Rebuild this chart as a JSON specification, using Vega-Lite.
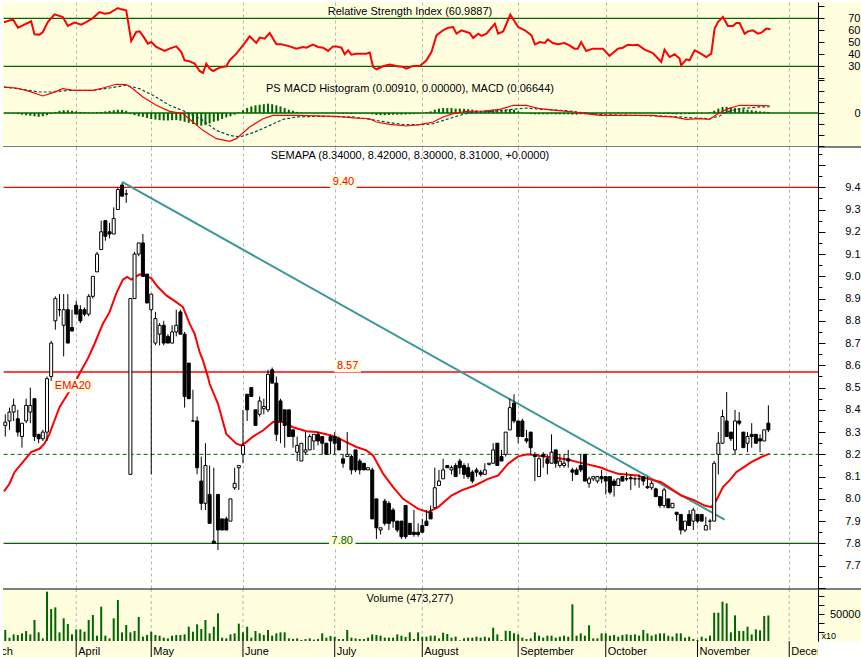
{
"$schema": "https://vega.github.io/schema/vega-lite/v6.json",
"background": "white",
"padding": 0,
"autosize": {"type": "pad"},
"bounds": "flush",
"spacing": 0,
"config": {
 "view": {"stroke": null},
 "font": "Liberation Sans",
 "axis": {"labelFont": "Liberation Sans", "labelFontSize": 11, "labelColor": "black", "domainColor": "black", "tickColor": "black", "titleFont": "Liberation Sans", "labelFlush": false},
 "text": {"font": "Liberation Sans"}
},
"resolve": {"scale": {"x": "independent", "y": "independent"}},
"datasets": {
 "months": [
  {"i": -6, "m": "March"}, {"i": 17, "m": "April"}, {"i": 35, "m": "May"}, {"i": 57, "m": "June"}, {"i": 79, "m": "July"},
  {"i": 100, "m": "August"}, {"i": 123, "m": "September"}, {"i": 144, "m": "October"}, {"i": 166, "m": "November"}, {"i": 188, "m": "December"}
 ],
 "bars": [
  {"i":0,"o":8.33,"h":8.38,"l":8.28,"c":8.345,"v":20400,"hg":-0.003},
  {"i":1,"o":8.35,"h":8.41,"l":8.31,"c":8.39,"v":6200,"hg":-0.003},
  {"i":2,"o":8.39,"h":8.45,"l":8.35,"c":8.42,"v":12300,"hg":-0.005},
  {"i":3,"o":8.36,"h":8.40,"l":8.28,"c":8.30,"v":11100,"hg":-0.01},
  {"i":4,"o":8.28,"h":8.34,"l":8.23,"c":8.34,"v":14200,"hg":-0.015},
  {"i":5,"o":8.35,"h":8.45,"l":8.34,"c":8.42,"v":18500,"hg":-0.02},
  {"i":6,"o":8.39,"h":8.50,"l":8.34,"c":8.42,"v":12300,"hg":-0.025},
  {"i":7,"o":8.45,"h":8.45,"l":8.26,"c":8.28,"v":38900,"hg":-0.03},
  {"i":8,"o":8.29,"h":8.29,"l":8.25,"c":8.27,"v":16000,"hg":-0.035},
  {"i":9,"o":8.27,"h":8.31,"l":8.26,"c":8.30,"v":4900,"hg":-0.03},
  {"i":10,"o":8.30,"h":8.55,"l":8.26,"c":8.54,"v":91300,"hg":-0.02},
  {"i":11,"o":8.55,"h":8.71,"l":8.53,"c":8.70,"v":59200,"hg":-0.01},
  {"i":12,"o":8.80,"h":8.91,"l":8.76,"c":8.90,"v":62300,"hg":0.01},
  {"i":13,"o":8.85,"h":8.92,"l":8.82,"c":8.85,"v":16000,"hg":0.02},
  {"i":14,"o":8.78,"h":8.92,"l":8.64,"c":8.85,"v":42000,"hg":0.025},
  {"i":15,"o":8.85,"h":8.92,"l":8.70,"c":8.70,"v":31500,"hg":0.025},
  {"i":16,"o":8.77,"h":8.85,"l":8.75,"c":8.755,"v":12300,"hg":0.02},
  {"i":17,"o":8.87,"h":8.89,"l":8.83,"c":8.83,"v":21600,"hg":0.015},
  {"i":18,"o":8.85,"h":8.87,"l":8.79,"c":8.80,"v":21600,"hg":0.01},
  {"i":19,"o":8.85,"h":8.86,"l":8.82,"c":8.83,"v":17300,"hg":0.008},
  {"i":20,"o":8.83,"h":8.92,"l":8.82,"c":8.91,"v":38900,"hg":0.005},
  {"i":21,"o":8.91,"h":9.00,"l":8.90,"c":9.00,"v":48100,"hg":0.005},
  {"i":22,"o":9.02,"h":9.11,"l":9.02,"c":9.10,"v":9900,"hg":0.008},
  {"i":23,"o":9.12,"h":9.25,"l":9.12,"c":9.20,"v":63500,"hg":0.01},
  {"i":24,"o":9.25,"h":9.25,"l":9.16,"c":9.18,"v":9900,"hg":0.015},
  {"i":25,"o":9.20,"h":9.24,"l":9.17,"c":9.19,"v":4900,"hg":0.02},
  {"i":26,"o":9.19,"h":9.31,"l":9.19,"c":9.26,"v":42000,"hg":0.025},
  {"i":27,"o":9.30,"h":9.40,"l":9.30,"c":9.39,"v":75900,"hg":0.03},
  {"i":28,"o":9.41,"h":9.42,"l":9.36,"c":9.36,"v":16000,"hg":0.028},
  {"i":29,"o":9.37,"h":9.39,"l":9.33,"c":9.37,"v":29600,"hg":0.02},
  {"i":30,"o":8.11,"h":8.90,"l":8.11,"c":8.90,"v":16000,"hg":-0.01},
  {"i":31,"o":8.90,"h":9.11,"l":8.90,"c":9.10,"v":18500,"hg":-0.02},
  {"i":32,"o":9.10,"h":9.15,"l":9.09,"c":9.15,"v":44400,"hg":-0.03},
  {"i":33,"o":9.15,"h":9.19,"l":9.00,"c":9.00,"v":8000,"hg":-0.035},
  {"i":34,"o":9.01,"h":9.01,"l":8.88,"c":8.88,"v":11100,"hg":-0.045},
  {"i":35,"o":8.85,"h":8.92,"l":8.11,"c":8.92,"v":17300,"hg":-0.055},
  {"i":36,"o":8.70,"h":8.84,"l":8.69,"c":8.81,"v":11100,"hg":-0.06},
  {"i":37,"o":8.74,"h":8.79,"l":8.69,"c":8.78,"v":9900,"hg":-0.065},
  {"i":38,"o":8.78,"h":8.80,"l":8.69,"c":8.70,"v":6200,"hg":-0.068},
  {"i":39,"o":8.73,"h":8.74,"l":8.70,"c":8.70,"v":4900,"hg":-0.068},
  {"i":40,"o":8.70,"h":8.78,"l":8.70,"c":8.75,"v":9900,"hg":-0.065},
  {"i":41,"o":8.75,"h":8.85,"l":8.73,"c":8.78,"v":11100,"hg":-0.065},
  {"i":42,"o":8.84,"h":8.85,"l":8.74,"c":8.74,"v":11100,"hg":-0.07},
  {"i":43,"o":8.74,"h":8.75,"l":8.41,"c":8.46,"v":12300,"hg":-0.08},
  {"i":44,"o":8.61,"h":8.61,"l":8.45,"c":8.45,"v":26500,"hg":-0.09},
  {"i":45,"o":8.35,"h":8.49,"l":8.35,"c":8.35,"v":17300,"hg":-0.1},
  {"i":46,"o":8.35,"h":8.37,"l":8.11,"c":8.14,"v":30900,"hg":-0.11},
  {"i":47,"o":8.08,"h":8.19,"l":7.95,"c":7.98,"v":22200,"hg":-0.115},
  {"i":48,"o":7.98,"h":8.25,"l":7.95,"c":8.15,"v":38900,"hg":-0.11},
  {"i":49,"o":8.02,"h":8.15,"l":7.89,"c":7.89,"v":14200,"hg":-0.095},
  {"i":50,"o":7.81,"h":8.14,"l":7.80,"c":7.80,"v":26500,"hg":-0.08},
  {"i":51,"o":8.02,"h":8.02,"l":7.77,"c":7.86,"v":51200,"hg":-0.07},
  {"i":52,"o":7.91,"h":7.91,"l":7.86,"c":7.86,"v":6200,"hg":-0.055},
  {"i":53,"o":7.91,"h":7.92,"l":7.86,"c":7.86,"v":4900,"hg":-0.04},
  {"i":54,"o":7.90,"h":8.00,"l":7.90,"c":8.00,"v":12300,"hg":-0.03},
  {"i":55,"o":8.05,"h":8.14,"l":8.04,"c":8.07,"v":14200,"hg":-0.015},
  {"i":56,"o":8.14,"h":8.15,"l":8.04,"c":8.15,"v":32100,"hg":0.005},
  {"i":57,"o":8.20,"h":8.40,"l":8.16,"c":8.24,"v":16000,"hg":0.025},
  {"i":58,"o":8.47,"h":8.47,"l":8.35,"c":8.40,"v":26500,"hg":0.045},
  {"i":59,"o":8.50,"h":8.50,"l":8.46,"c":8.46,"v":6200,"hg":0.06},
  {"i":60,"o":8.40,"h":8.40,"l":8.33,"c":8.33,"v":18500,"hg":0.07},
  {"i":61,"o":8.38,"h":8.46,"l":8.37,"c":8.44,"v":14200,"hg":0.075},
  {"i":62,"o":8.405,"h":8.45,"l":8.38,"c":8.415,"v":11100,"hg":0.08},
  {"i":63,"o":8.40,"h":8.58,"l":8.39,"c":8.56,"v":20400,"hg":0.085},
  {"i":64,"o":8.58,"h":8.59,"l":8.52,"c":8.52,"v":9900,"hg":0.08},
  {"i":65,"o":8.52,"h":8.55,"l":8.26,"c":8.29,"v":14200,"hg":0.07},
  {"i":66,"o":8.44,"h":8.45,"l":8.25,"c":8.35,"v":16000,"hg":0.06},
  {"i":67,"o":8.40,"h":8.40,"l":8.23,"c":8.33,"v":16000,"hg":0.045},
  {"i":68,"o":8.40,"h":8.40,"l":8.28,"c":8.28,"v":4900,"hg":0.03},
  {"i":69,"o":8.31,"h":8.31,"l":8.23,"c":8.28,"v":3700,"hg":0.02},
  {"i":70,"o":8.21,"h":8.28,"l":8.17,"c":8.24,"v":4900,"hg":0.01},
  {"i":71,"o":8.17,"h":8.25,"l":8.17,"c":8.25,"v":1900,"hg":0.005},
  {"i":72,"o":8.21,"h":8.30,"l":8.20,"c":8.22,"v":3700,"hg":0.003},
  {"i":73,"o":8.22,"h":8.29,"l":8.22,"c":8.28,"v":4900,"hg":0.002},
  {"i":74,"o":8.26,"h":8.29,"l":8.22,"c":8.29,"v":2500,"hg":-0.002},
  {"i":75,"o":8.29,"h":8.30,"l":8.24,"c":8.26,"v":3700,"hg":-0.003},
  {"i":76,"o":8.28,"h":8.28,"l":8.20,"c":8.25,"v":14200,"hg":0.003},
  {"i":77,"o":8.25,"h":8.25,"l":8.20,"c":8.20,"v":6200,"hg":-0.004},
  {"i":78,"o":8.28,"h":8.29,"l":8.20,"c":8.26,"v":9300,"hg":0.002},
  {"i":79,"o":8.28,"h":8.30,"l":8.20,"c":8.25,"v":8000,"hg":-0.003},
  {"i":80,"o":8.27,"h":8.28,"l":8.22,"c":8.22,"v":3700,"hg":-0.005},
  {"i":81,"o":8.18,"h":8.20,"l":8.14,"c":8.16,"v":3700,"hg":-0.008},
  {"i":82,"o":8.19,"h":8.30,"l":8.19,"c":8.20,"v":20400,"hg":-0.006},
  {"i":83,"o":8.19,"h":8.20,"l":8.11,"c":8.13,"v":6200,"hg":-0.01},
  {"i":84,"o":8.22,"h":8.22,"l":8.12,"c":8.13,"v":4900,"hg":-0.008},
  {"i":85,"o":8.17,"h":8.18,"l":8.11,"c":8.13,"v":3700,"hg":-0.006},
  {"i":86,"o":8.16,"h":8.16,"l":8.13,"c":8.13,"v":3700,"hg":-0.005},
  {"i":87,"o":8.13,"h":8.14,"l":8.13,"c":8.14,"v":6200,"hg":-0.004},
  {"i":88,"o":8.13,"h":8.14,"l":7.91,"c":7.91,"v":12300,"hg":-0.012},
  {"i":89,"o":8.00,"h":8.00,"l":7.82,"c":7.87,"v":11100,"hg":-0.018},
  {"i":90,"o":7.86,"h":7.87,"l":7.84,"c":7.87,"v":9900,"hg":-0.02},
  {"i":91,"o":7.99,"h":8.00,"l":7.88,"c":7.89,"v":6200,"hg":-0.02},
  {"i":92,"o":7.98,"h":7.99,"l":7.86,"c":7.89,"v":6200,"hg":-0.018},
  {"i":93,"o":7.95,"h":7.96,"l":7.87,"c":7.90,"v":6200,"hg":-0.016},
  {"i":94,"o":7.90,"h":7.90,"l":7.85,"c":7.86,"v":12300,"hg":-0.015},
  {"i":95,"o":7.90,"h":7.90,"l":7.82,"c":7.83,"v":9900,"hg":-0.015},
  {"i":96,"o":7.97,"h":7.97,"l":7.82,"c":7.83,"v":7400,"hg":-0.014},
  {"i":97,"o":7.89,"h":7.89,"l":7.84,"c":7.84,"v":16000,"hg":-0.012},
  {"i":98,"o":7.85,"h":7.95,"l":7.83,"c":7.84,"v":3700,"hg":-0.01},
  {"i":99,"o":7.85,"h":7.89,"l":7.83,"c":7.84,"v":16000,"hg":-0.006},
  {"i":100,"o":7.88,"h":7.91,"l":7.85,"c":7.85,"v":8000,"hg":0.0},
  {"i":101,"o":7.90,"h":7.95,"l":7.88,"c":7.88,"v":8000,"hg":0.008},
  {"i":102,"o":7.94,"h":7.97,"l":7.91,"c":7.91,"v":9900,"hg":0.015},
  {"i":103,"o":7.96,"h":8.14,"l":7.96,"c":8.05,"v":9900,"hg":0.03},
  {"i":104,"o":8.06,"h":8.13,"l":8.06,"c":8.08,"v":4900,"hg":0.04},
  {"i":105,"o":8.09,"h":8.18,"l":8.09,"c":8.13,"v":15400,"hg":0.045},
  {"i":106,"o":8.15,"h":8.15,"l":8.14,"c":8.14,"v":13000,"hg":0.045},
  {"i":107,"o":8.13,"h":8.15,"l":8.11,"c":8.14,"v":6200,"hg":0.045},
  {"i":108,"o":8.15,"h":8.16,"l":8.10,"c":8.10,"v":8000,"hg":0.04},
  {"i":109,"o":8.17,"h":8.18,"l":8.11,"c":8.14,"v":1200,"hg":0.04},
  {"i":110,"o":8.15,"h":8.16,"l":8.09,"c":8.11,"v":4900,"hg":0.038},
  {"i":111,"o":8.14,"h":8.16,"l":8.09,"c":8.10,"v":6200,"hg":0.035},
  {"i":112,"o":8.12,"h":8.13,"l":8.07,"c":8.08,"v":6200,"hg":0.03},
  {"i":113,"o":8.13,"h":8.14,"l":8.10,"c":8.12,"v":8000,"hg":0.025},
  {"i":114,"o":8.12,"h":8.13,"l":8.10,"c":8.11,"v":6200,"hg":0.02},
  {"i":115,"o":8.11,"h":8.16,"l":8.11,"c":8.13,"v":8000,"hg":0.02},
  {"i":116,"o":8.155,"h":8.16,"l":8.15,"c":8.16,"v":6200,"hg":0.022},
  {"i":117,"o":8.16,"h":8.25,"l":8.16,"c":8.22,"v":24700,"hg":0.03},
  {"i":118,"o":8.25,"h":8.25,"l":8.15,"c":8.15,"v":12300,"hg":0.03},
  {"i":119,"o":8.19,"h":8.22,"l":8.17,"c":8.17,"v":1900,"hg":0.028},
  {"i":120,"o":8.20,"h":8.30,"l":8.19,"c":8.30,"v":19100,"hg":0.03},
  {"i":121,"o":8.31,"h":8.45,"l":8.31,"c":8.41,"v":18500,"hg":0.035},
  {"i":122,"o":8.43,"h":8.47,"l":8.34,"c":8.35,"v":14200,"hg":0.03},
  {"i":123,"o":8.35,"h":8.35,"l":8.25,"c":8.28,"v":12300,"hg":0.015},
  {"i":124,"o":8.35,"h":8.36,"l":8.28,"c":8.28,"v":6200,"hg":0.005},
  {"i":125,"o":8.27,"h":8.31,"l":8.25,"c":8.26,"v":3700,"hg":-0.005},
  {"i":126,"o":8.30,"h":8.30,"l":8.20,"c":8.23,"v":4900,"hg":-0.01},
  {"i":127,"o":8.20,"h":8.21,"l":8.08,"c":8.19,"v":16000,"hg":-0.012},
  {"i":128,"o":8.10,"h":8.19,"l":8.10,"c":8.18,"v":9900,"hg":-0.012},
  {"i":129,"o":8.20,"h":8.21,"l":8.14,"c":8.19,"v":6200,"hg":-0.012},
  {"i":130,"o":8.18,"h":8.20,"l":8.11,"c":8.16,"v":9900,"hg":-0.012},
  {"i":131,"o":8.16,"h":8.29,"l":8.16,"c":8.21,"v":9900,"hg":-0.01},
  {"i":132,"o":8.22,"h":8.22,"l":8.14,"c":8.16,"v":6200,"hg":-0.012},
  {"i":133,"o":8.15,"h":8.20,"l":8.14,"c":8.17,"v":8000,"hg":-0.012},
  {"i":134,"o":8.15,"h":8.20,"l":8.14,"c":8.16,"v":9900,"hg":-0.012},
  {"i":135,"o":8.18,"h":8.22,"l":8.14,"c":8.17,"v":8000,"hg":-0.012},
  {"i":136,"o":8.13,"h":8.14,"l":8.08,"c":8.12,"v":67900,"hg":-0.015},
  {"i":137,"o":8.13,"h":8.14,"l":8.11,"c":8.11,"v":9900,"hg":-0.015},
  {"i":138,"o":8.15,"h":8.20,"l":8.12,"c":8.13,"v":14200,"hg":-0.012},
  {"i":139,"o":8.20,"h":8.20,"l":8.08,"c":8.08,"v":9900,"hg":-0.012},
  {"i":140,"o":8.07,"h":8.10,"l":8.05,"c":8.09,"v":29000,"hg":-0.01},
  {"i":141,"o":8.09,"h":8.10,"l":8.08,"c":8.10,"v":4900,"hg":-0.008},
  {"i":142,"o":8.08,"h":8.10,"l":8.07,"c":8.10,"v":4900,"hg":-0.005},
  {"i":143,"o":8.10,"h":8.13,"l":8.07,"c":8.09,"v":14200,"hg":-0.004},
  {"i":144,"o":8.10,"h":8.10,"l":8.02,"c":8.08,"v":14200,"hg":-0.003},
  {"i":145,"o":8.10,"h":8.10,"l":8.02,"c":8.03,"v":9900,"hg":0.003},
  {"i":146,"o":8.08,"h":8.09,"l":8.01,"c":8.06,"v":11100,"hg":0.003},
  {"i":147,"o":8.06,"h":8.09,"l":8.06,"c":8.09,"v":8000,"hg":0.004},
  {"i":148,"o":8.10,"h":8.10,"l":8.08,"c":8.08,"v":11100,"hg":0.003},
  {"i":149,"o":8.09,"h":8.12,"l":8.08,"c":8.09,"v":12300,"hg":0.004},
  {"i":150,"o":8.095,"h":8.11,"l":8.04,"c":8.09,"v":11100,"hg":0.003},
  {"i":151,"o":8.09,"h":8.10,"l":8.06,"c":8.09,"v":12300,"hg":0.004},
  {"i":152,"o":8.09,"h":8.11,"l":8.05,"c":8.09,"v":9900,"hg":0.003},
  {"i":153,"o":8.10,"h":8.10,"l":8.06,"c":8.08,"v":20400,"hg":0.002},
  {"i":154,"o":8.055,"h":8.10,"l":8.045,"c":8.05,"v":14200,"hg":0.003},
  {"i":155,"o":8.05,"h":8.08,"l":8.04,"c":8.07,"v":9900,"hg":0.002},
  {"i":156,"o":8.045,"h":8.05,"l":8.01,"c":8.01,"v":12300,"hg":-0.003},
  {"i":157,"o":8.01,"h":8.01,"l":7.96,"c":7.97,"v":14200,"hg":-0.006},
  {"i":158,"o":7.97,"h":8.05,"l":7.96,"c":8.04,"v":14200,"hg":-0.008},
  {"i":159,"o":8.00,"h":8.00,"l":7.96,"c":7.96,"v":9900,"hg":-0.01},
  {"i":160,"o":7.96,"h":7.98,"l":7.96,"c":7.98,"v":8000,"hg":-0.01},
  {"i":161,"o":7.94,"h":7.94,"l":7.90,"c":7.93,"v":14200,"hg":-0.012},
  {"i":162,"o":7.93,"h":7.93,"l":7.84,"c":7.86,"v":14200,"hg":-0.012},
  {"i":163,"o":7.86,"h":7.90,"l":7.85,"c":7.90,"v":6200,"hg":-0.01},
  {"i":164,"o":7.93,"h":7.95,"l":7.88,"c":7.88,"v":8000,"hg":-0.01},
  {"i":165,"o":7.90,"h":7.96,"l":7.86,"c":7.95,"v":3700,"hg":-0.008},
  {"i":166,"o":7.93,"h":7.93,"l":7.89,"c":7.90,"v":1900,"hg":-0.006},
  {"i":167,"o":7.93,"h":7.93,"l":7.90,"c":7.90,"v":8000,"hg":-0.005},
  {"i":168,"o":7.86,"h":7.92,"l":7.86,"c":7.88,"v":4900,"hg":-0.002},
  {"i":169,"o":7.90,"h":7.91,"l":7.86,"c":7.90,"v":9900,"hg":0.005},
  {"i":170,"o":7.90,"h":8.17,"l":7.90,"c":8.16,"v":52400,"hg":0.02},
  {"i":171,"o":8.20,"h":8.30,"l":8.11,"c":8.25,"v":52400,"hg":0.04},
  {"i":172,"o":8.25,"h":8.40,"l":8.25,"c":8.37,"v":72800,"hg":0.055},
  {"i":173,"o":8.35,"h":8.48,"l":8.28,"c":8.28,"v":69700,"hg":0.055},
  {"i":174,"o":8.30,"h":8.30,"l":8.26,"c":8.27,"v":16000,"hg":0.05},
  {"i":175,"o":8.22,"h":8.40,"l":8.20,"c":8.35,"v":47500,"hg":0.045},
  {"i":176,"o":8.35,"h":8.39,"l":8.33,"c":8.34,"v":18500,"hg":0.04},
  {"i":177,"o":8.30,"h":8.30,"l":8.23,"c":8.23,"v":18500,"hg":0.035},
  {"i":178,"o":8.25,"h":8.30,"l":8.21,"c":8.28,"v":26500,"hg":0.03},
  {"i":179,"o":8.29,"h":8.34,"l":8.23,"c":8.28,"v":12300,"hg":0.025},
  {"i":180,"o":8.29,"h":8.29,"l":8.25,"c":8.25,"v":21600,"hg":0.02},
  {"i":181,"o":8.27,"h":8.29,"l":8.21,"c":8.26,"v":19700,"hg":0.015},
  {"i":182,"o":8.26,"h":8.31,"l":8.26,"c":8.31,"v":46300,"hg":0.012},
  {"i":183,"o":8.34,"h":8.42,"l":8.30,"c":8.31,"v":47300,"hg":0.009}
 ],
 "rsi": [
  {"i":-0.3,"r":66.7},{"i":1.85,"r":69.1},{"i":3.05,"r":62.2},{"i":4.2,"r":64.1},{"i":6.2,"r":67.5},{"i":7.0,"r":56.6},{"i":8.2,"r":56.4},{"i":9.0,"r":58.6},{"i":10.2,"r":66.9},{"i":11.8,"r":73.3},{"i":13.8,"r":71.1},{"i":15.0,"r":63.6},{"i":16.6,"r":66.4},{"i":18.2,"r":64.7},{"i":19.4,"r":66.9},{"i":21.0,"r":70.2},{"i":22.6,"r":75.2},{"i":23.8,"r":73.9},{"i":25.0,"r":74.4},{"i":27.0,"r":78.6},{"i":27.8,"r":77.5},{"i":29.0,"r":76.6},{"i":30.2,"r":51.1},{"i":31.4,"r":58.6},{"i":32.2,"r":59.1},{"i":33.0,"r":55.3},{"i":34.2,"r":48.9},{"i":35.0,"r":50.2},{"i":36.2,"r":46.1},{"i":38.2,"r":42.8},{"i":39.4,"r":44.7},{"i":41.0,"r":46.6},{"i":42.2,"r":41.9},{"i":43.0,"r":35.0},{"i":44.2,"r":34.1},{"i":45.4,"r":32.2},{"i":46.6,"r":26.1},{"i":47.4,"r":24.4},{"i":48.2,"r":32.2},{"i":49.0,"r":28.1},{"i":49.8,"r":26.1},{"i":51.4,"r":28.9},{"i":53.0,"r":30.0},{"i":53.8,"r":35.0},{"i":55.4,"r":40.5},{"i":57.0,"r":47.5},{"i":58.6,"r":55.0},{"i":60.2,"r":49.4},{"i":61.0,"r":53.9},{"i":62.2,"r":53.0},{"i":63.4,"r":57.7},{"i":65.0,"r":48.3},{"i":66.2,"r":48.3},{"i":68.2,"r":46.6},{"i":69.8,"r":44.7},{"i":71.4,"r":46.1},{"i":72.2,"r":45.5},{"i":73.8,"r":48.0},{"i":75.0,"r":46.1},{"i":76.2,"r":45.5},{"i":77.4,"r":42.8},{"i":78.6,"r":46.6},{"i":79.4,"r":46.6},{"i":80.6,"r":45.5},{"i":81.4,"r":40.0},{"i":82.2,"r":43.3},{"i":83.0,"r":39.7},{"i":84.2,"r":40.5},{"i":86.6,"r":40.5},{"i":87.4,"r":41.4},{"i":88.2,"r":29.4},{"i":89.0,"r":27.5},{"i":90.6,"r":30.0},{"i":92.2,"r":31.4},{"i":93.8,"r":30.3},{"i":95.4,"r":29.4},{"i":96.2,"r":28.0},{"i":97.8,"r":30.3},{"i":99.4,"r":30.3},{"i":101.0,"r":35.0},{"i":102.2,"r":41.9},{"i":103.4,"r":55.8},{"i":105.0,"r":60.0},{"i":106.2,"r":62.2},{"i":107.4,"r":62.7},{"i":108.2,"r":57.2},{"i":109.4,"r":60.0},{"i":110.6,"r":58.6},{"i":111.4,"r":57.7},{"i":112.2,"r":53.6},{"i":113.4,"r":57.2},{"i":114.2,"r":55.3},{"i":115.4,"r":57.2},{"i":117.4,"r":65.5},{"i":118.2,"r":57.2},{"i":119.4,"r":59.1},{"i":121.1,"r":73.0},{"i":123.0,"r":62.7},{"i":124.6,"r":60.0},{"i":126.2,"r":55.8},{"i":127.0,"r":48.3},{"i":128.2,"r":50.2},{"i":129.4,"r":49.4},{"i":130.1,"r":52.5},{"i":131.3,"r":49.4},{"i":132.5,"r":48.3},{"i":134.1,"r":49.4},{"i":135.3,"r":47.5},{"i":136.5,"r":44.7},{"i":137.3,"r":44.7},{"i":138.1,"r":50.2},{"i":139.3,"r":42.8},{"i":140.9,"r":44.7},{"i":143.3,"r":44.7},{"i":144.9,"r":38.6},{"i":146.9,"r":44.7},{"i":148.1,"r":45.5},{"i":149.3,"r":48.0},{"i":150.5,"r":47.5},{"i":151.7,"r":48.0},{"i":153.3,"r":43.9},{"i":155.3,"r":41.1},{"i":157.3,"r":33.6},{"i":158.1,"r":43.9},{"i":159.3,"r":37.7},{"i":160.5,"r":40.0},{"i":161.7,"r":36.4},{"i":162.1,"r":30.8},{"i":163.3,"r":35.8},{"i":164.1,"r":35.0},{"i":165.3,"r":43.3},{"i":166.5,"r":41.1},{"i":168.1,"r":37.7},{"i":169.3,"r":40.5},{"i":170.1,"r":61.4},{"i":170.9,"r":66.9},{"i":172.1,"r":71.1},{"i":173.3,"r":63.6},{"i":174.5,"r":63.6},{"i":175.3,"r":66.1},{"i":176.1,"r":66.1},{"i":177.3,"r":57.2},{"i":178.1,"r":59.1},{"i":179.3,"r":60.0},{"i":180.5,"r":57.2},{"i":181.3,"r":58.0},{"i":182.5,"r":61.4},{"i":183.5,"r":60.8}
 ],
 "ema": [
  {"i":-0.3,"e":8.034},{"i":1.0,"e":8.068},{"i":2.2,"e":8.12},{"i":4.2,"e":8.165},{"i":6.2,"e":8.21},{"i":8.2,"e":8.225},{"i":9.4,"e":8.248},{"i":10.6,"e":8.292},{"i":11.8,"e":8.352},{"i":13.0,"e":8.412},{"i":15.0,"e":8.472},{"i":16.6,"e":8.52},{"i":18.2,"e":8.577},{"i":19.8,"e":8.63},{"i":21.4,"e":8.697},{"i":23.4,"e":8.787},{"i":25.0,"e":8.839},{"i":26.6,"e":8.922},{"i":28.2,"e":8.985},{"i":29.2,"e":8.997},{"i":30.2,"e":8.985},{"i":32.2,"e":9.009},{"i":33.8,"e":9.0},{"i":35.0,"e":8.992},{"i":36.6,"e":8.952},{"i":38.6,"e":8.914},{"i":41.0,"e":8.884},{"i":42.6,"e":8.862},{"i":44.2,"e":8.787},{"i":45.4,"e":8.742},{"i":46.6,"e":8.66},{"i":47.4,"e":8.622},{"i":48.6,"e":8.547},{"i":49.0,"e":8.517},{"i":51.0,"e":8.427},{"i":53.0,"e":8.292},{"i":55.4,"e":8.248},{"i":56.6,"e":8.24},{"i":57.8,"e":8.255},{"i":59.4,"e":8.28},{"i":61.8,"e":8.307},{"i":64.2,"e":8.345},{"i":66.6,"e":8.345},{"i":69.0,"e":8.322},{"i":72.2,"e":8.304},{"i":74.6,"e":8.3},{"i":77.0,"e":8.29},{"i":79.4,"e":8.277},{"i":81.8,"e":8.255},{"i":84.2,"e":8.233},{"i":86.6,"e":8.218},{"i":88.2,"e":8.195},{"i":90.6,"e":8.113},{"i":93.0,"e":8.053},{"i":95.4,"e":8.0},{"i":97.8,"e":7.97},{"i":99.0,"e":7.955},{"i":101.4,"e":7.94},{"i":103.8,"e":7.963},{"i":107.0,"e":8.015},{"i":109.4,"e":8.038},{"i":112.6,"e":8.06},{"i":115.8,"e":8.09},{"i":118.2,"e":8.105},{"i":120.6,"e":8.158},{"i":123.0,"e":8.191},{"i":125.3,"e":8.2},{"i":128.5,"e":8.192},{"i":131.7,"e":8.185},{"i":134.9,"e":8.177},{"i":137.3,"e":8.165},{"i":139.7,"e":8.155},{"i":143.0,"e":8.14},{"i":144.5,"e":8.128},{"i":146.9,"e":8.113},{"i":151.7,"e":8.105},{"i":154.1,"e":8.09},{"i":157.3,"e":8.075},{"i":159.7,"e":8.045},{"i":162.1,"e":8.015},{"i":165.3,"e":7.993},{"i":167.7,"e":7.97},{"i":169.3,"e":7.963},{"i":170.5,"e":7.993},{"i":172.1,"e":8.053},{"i":173.7,"e":8.083},{"i":175.3,"e":8.12},{"i":176.5,"e":8.135},{"i":178.9,"e":8.165},{"i":181.3,"e":8.188},{"i":183.3,"e":8.203}
 ],
 "macd": [
  {"i":-0.3,"m":0.236},{"i":2.6,"m":0.227},{"i":5.8,"m":0.197},{"i":9.0,"m":0.155},{"i":11.4,"m":0.185},{"i":13.8,"m":0.221},{"i":16.2,"m":0.206},{"i":21.0,"m":0.206},{"i":23.4,"m":0.227},{"i":26.6,"m":0.261},{"i":29.0,"m":0.258},{"i":30.6,"m":0.221},{"i":33.0,"m":0.145},{"i":36.2,"m":0.07},{"i":39.4,"m":0.015},{"i":42.6,"m":-0.006},{"i":45.0,"m":-0.082},{"i":47.4,"m":-0.158},{"i":50.6,"m":-0.233},{"i":53.8,"m":-0.258},{"i":55.4,"m":-0.233},{"i":58.6,"m":-0.127},{"i":61.8,"m":-0.052},{"i":64.2,"m":-0.021},{"i":69.8,"m":-0.021},{"i":79.4,"m":-0.03},{"i":83.4,"m":-0.045},{"i":87.4,"m":-0.052},{"i":89.0,"m":-0.082},{"i":92.2,"m":-0.103},{"i":96.2,"m":-0.118},{"i":99.4,"m":-0.106},{"i":102.6,"m":-0.082},{"i":105.0,"m":-0.036},{"i":107.4,"m":-0.006},{"i":110.6,"m":0.015},{"i":114.6,"m":0.018},{"i":118.6,"m":0.033},{"i":121.8,"m":0.07},{"i":125.0,"m":0.07},{"i":128.2,"m":0.039},{"i":132.1,"m":0.024},{"i":136.1,"m":0.009},{"i":139.3,"m":-0.006},{"i":142.5,"m":-0.021},{"i":155.3,"m":-0.021},{"i":156.9,"m":-0.03},{"i":160.1,"m":-0.036},{"i":163.3,"m":-0.058},{"i":166.5,"m":-0.052},{"i":168.9,"m":-0.058},{"i":170.5,"m":-0.015},{"i":172.9,"m":0.033},{"i":176.1,"m":0.07},{"i":183.3,"m":0.066}
 ],
 "sig": [
  {"i":-0.3,"s":0.236},{"i":4.2,"s":0.215},{"i":8.2,"s":0.191},{"i":11.4,"s":0.191},{"i":15.4,"s":0.206},{"i":21.0,"s":0.206},{"i":25.0,"s":0.227},{"i":29.0,"s":0.252},{"i":32.2,"s":0.221},{"i":35.4,"s":0.161},{"i":39.4,"s":0.07},{"i":43.4,"s":0.009},{"i":47.4,"s":-0.067},{"i":50.6,"s":-0.158},{"i":53.8,"s":-0.203},{"i":56.2,"s":-0.218},{"i":59.4,"s":-0.179},{"i":62.6,"s":-0.127},{"i":66.6,"s":-0.058},{"i":69.8,"s":-0.036},{"i":75.4,"s":-0.03},{"i":83.4,"s":-0.036},{"i":87.4,"s":-0.058},{"i":91.4,"s":-0.082},{"i":95.4,"s":-0.106},{"i":100.2,"s":-0.106},{"i":102.6,"s":-0.097},{"i":105.8,"s":-0.058},{"i":109.0,"s":-0.021},{"i":112.2,"s":0.009},{"i":117.0,"s":0.015},{"i":121.8,"s":0.033},{"i":125.0,"s":0.045},{"i":129.0,"s":0.033},{"i":134.5,"s":0.021},{"i":138.5,"s":0.003},{"i":142.5,"s":-0.015},{"i":150.5,"s":-0.021},{"i":156.9,"s":-0.027},{"i":161.7,"s":-0.036},{"i":164.9,"s":-0.045},{"i":168.9,"s":-0.052},{"i":171.3,"s":-0.027},{"i":172.9,"s":0.009},{"i":176.1,"s":0.039},{"i":180.9,"s":0.055},{"i":183.3,"s":0.057}
 ]
},
"vconcat": [
 {
  "width": 815, "height": 77,
  "view": {"fill": "#ffffe0"},
  "layer": [
   {"data": {"values": [{"a": 1}]}, "mark": {"type": "rect", "color": "#ffffe0"},
    "encoding": {
     "x": {"datum": 194.9, "type": "quantitative", "scale": {"domain": [-0.55, 194.9], "nice": false, "zero": false, "padding": 0},
       "axis": {"orient": "bottom", "values": [17, 35, 57, 79, 100, 123, 144, 166, 188], "tickCount": 100, "grid": true, "gridDash": [3, 3], "gridColor": "#b4b4b4", "ticks": false, "labels": false, "domain": true, "title": null}},
     "x2": {"datum": 205.92},
     "y": {"datum": 19.4, "type": "quantitative", "scale": {"domain": [19.4, 83.6], "nice": false, "zero": false, "padding": 0}},
     "y2": {"datum": 83.6}
    }},
   {"data": {"values": [{"r": 70}, {"r": 30}]},
    "mark": {"type": "rule", "color": "#006400", "strokeWidth": 1.3},
    "encoding": {"x": {"datum": -0.4, "type": "quantitative"}, "x2": {"datum": 194.9}, "y": {"field": "r", "type": "quantitative"}}},
   {"data": {"name": "rsi"}, "mark": {"type": "line", "color": "#ff0000", "strokeWidth": 2},
    "encoding": {"x": {"field": "i", "type": "quantitative"},
     "y": {"field": "r", "type": "quantitative",
       "axis": {"orient": "right", "values": [20, 30, 40, 50, 60, 70, 80], "tickCount": 100, "labelExpr": "datum.value >= 30 && datum.value <= 70 ? format(datum.value, 'd') : ''", "tickSize": 6, "labelAlign": "right", "labelPadding": 36, "labelOverlap": false, "grid": false, "title": null, "zindex": 1}}}},
   {"data": {"values": [{"i": 97.05, "y": 75.25, "t": "Relative Strength Index (60.9887)"}]},
    "mark": {"type": "text", "fontSize": 11, "align": "center", "baseline": "middle", "color": "black"},
    "encoding": {"x": {"field": "i", "type": "quantitative"}, "y": {"field": "y", "type": "quantitative"}, "text": {"field": "t"}}}
  ]
 },
 {
  "width": 815, "height": 68,
  "view": {"fill": "#ffffe0"},
  "layer": [
   {"data": {"values": [{"a": 1}]}, "mark": {"type": "rect", "color": "#ffffe0"},
    "encoding": {
     "x": {"datum": 194.9, "type": "quantitative", "scale": {"domain": [-0.55, 194.9], "nice": false, "zero": false, "padding": 0},
       "axis": {"orient": "bottom", "values": [17, 35, 57, 79, 100, 123, 144, 166, 188], "tickCount": 100, "grid": true, "gridDash": [3, 3], "gridColor": "#b4b4b4", "ticks": false, "labels": false, "domain": true, "title": null}},
     "x2": {"datum": 205.92},
     "y": {"datum": -0.309, "type": "quantitative", "scale": {"domain": [-0.309, 0.309], "nice": false, "zero": false, "padding": 0}},
     "y2": {"datum": 0.309}
    }},
   {"data": {"values": [{"z": 0}]},
    "mark": {"type": "rule", "color": "#006400", "strokeWidth": 1.3},
    "encoding": {"x": {"datum": -0.4, "type": "quantitative"}, "x2": {"datum": 194.9}, "y": {"field": "z", "type": "quantitative"}}},
   {"data": {"name": "bars"}, "mark": {"type": "bar", "orient": "vertical", "size": 2, "color": "#006400"},
    "encoding": {"x": {"field": "i", "type": "quantitative"}, "y": {"field": "hg", "type": "quantitative"}}},
   {"data": {"name": "sig"}, "mark": {"type": "line", "color": "#005050", "strokeWidth": 1.2, "strokeDash": [3, 2]},
    "encoding": {"x": {"field": "i", "type": "quantitative"}, "y": {"field": "s", "type": "quantitative"}}},
   {"data": {"name": "macd"}, "mark": {"type": "line", "color": "#ff0000", "strokeWidth": 1.2},
    "encoding": {"x": {"field": "i", "type": "quantitative"},
     "y": {"field": "m", "type": "quantitative",
       "axis": {"orient": "right", "values": [-0.3, -0.2, -0.1, 0, 0.1, 0.2, 0.3], "tickCount": 100, "labelExpr": "datum.value == 0 ? '0' : ''", "tickSize": 6, "labelAlign": "right", "labelPadding": 36, "labelOverlap": false, "grid": false, "title": null, "zindex": 1}}}},
   {"data": {"values": [{"z": -0.309}]},
    "mark": {"type": "rule", "color": "black", "strokeWidth": 1},
    "encoding": {"x": {"datum": -0.55, "type": "quantitative"}, "x2": {"datum": 205.92}, "y": {"field": "z", "type": "quantitative"}}},
   {"data": {"values": [{"i": 97.05, "y": 0.2136, "t": "PS MACD Histogram (0.00910, 0.00000), MACD (0.06644)"}]},
    "mark": {"type": "text", "fontSize": 11, "align": "center", "baseline": "middle", "color": "black"},
    "encoding": {"x": {"field": "i", "type": "quantitative"}, "y": {"field": "y", "type": "quantitative"}, "text": {"field": "t"}}}
  ]
 },
 {
  "width": 815, "height": 442,
  "view": {"fill": "white"},
  "layer": [
   {"data": {"values": [{"p": 9.4}, {"p": 8.57}]},
    "mark": {"type": "rule", "color": "#ff0000", "strokeWidth": 1.3},
    "encoding": {
     "x": {"datum": -0.4, "type": "quantitative", "scale": {"domain": [-0.55, 194.9], "nice": false, "zero": false, "padding": 0},
       "axis": {"orient": "bottom", "values": [17, 35, 57, 79, 100, 123, 144, 166, 188], "tickCount": 100, "grid": true, "gridDash": [3, 3], "gridColor": "#b4b4b4", "ticks": false, "labels": false, "domain": true, "title": null}},
     "x2": {"datum": 194.9},
     "y": {"field": "p", "type": "quantitative", "scale": {"domain": [7.595, 9.581], "nice": false, "zero": false, "padding": 0},
       "axis": {"orient": "right", "values": [7.6, 7.65, 7.7, 7.75, 7.8, 7.85, 7.9, 7.95, 8.0, 8.05, 8.1, 8.15, 8.2, 8.25, 8.3, 8.35, 8.4, 8.45, 8.5, 8.55, 8.6, 8.65, 8.7, 8.75, 8.8, 8.85, 8.9, 8.95, 9.0, 9.05, 9.1, 9.15, 9.2, 9.25, 9.3, 9.35, 9.4, 9.45, 9.5, 9.55],
         "tickCount": 100,
         "labelExpr": "(abs(datum.value*10 - round(datum.value*10)) < 0.01 && datum.value > 7.65 && datum.value < 9.45) ? format(datum.value, '.1f') : ''",
         "tickSize": {"condition": {"test": "abs(datum.value*10 - round(datum.value*10)) < 0.01", "value": 7}, "value": 4},
         "labelAlign": "right", "labelPadding": 35, "labelOverlap": false, "grid": false, "title": null}}
    }},
   {"data": {"values": [{"p": 7.8}]}, "mark": {"type": "rule", "color": "#006400", "strokeWidth": 1.3},
    "encoding": {"x": {"datum": -0.4, "type": "quantitative"}, "x2": {"datum": 194.9}, "y": {"field": "p", "type": "quantitative"}}},
   {"data": {"values": [{"p": 8.2}]}, "mark": {"type": "rule", "color": "#006400", "strokeWidth": 1, "strokeDash": [4, 3]},
    "encoding": {"x": {"datum": -0.4, "type": "quantitative"}, "x2": {"datum": 194.9}, "y": {"field": "p", "type": "quantitative"}}},
   {"data": {"values": [{"i": 28.0, "p": 9.424}, {"i": 172.5, "p": 7.907}]}, "mark": {"type": "line", "color": "#3c9898", "strokeWidth": 2},
    "encoding": {"x": {"field": "i", "type": "quantitative"}, "y": {"field": "p", "type": "quantitative"}}},
   {"data": {"name": "ema"}, "mark": {"type": "line", "color": "#ff0000", "strokeWidth": 2},
    "encoding": {"x": {"field": "i", "type": "quantitative"}, "y": {"field": "e", "type": "quantitative"}}},
   {"data": {"name": "bars"}, "mark": {"type": "rule", "color": "black", "strokeWidth": 1},
    "encoding": {"x": {"field": "i", "type": "quantitative"}, "y": {"field": "l", "type": "quantitative"}, "y2": {"field": "h"}}},
   {"data": {"name": "bars"}, "mark": {"type": "bar", "orient": "vertical", "size": 3, "stroke": "black", "strokeWidth": 1},
    "encoding": {"x": {"field": "i", "type": "quantitative"}, "y": {"field": "o", "type": "quantitative"}, "y2": {"field": "c"},
      "fill": {"condition": {"test": "datum.c > datum.o", "value": "white"}, "value": "black"}}},
   {"data": {"values": [{"i": 81.1, "p": 9.424, "t": "9.40"}, {"i": 82.1, "p": 8.596, "t": "8.57"}, {"i": 80.8, "p": 7.81, "t": "7.80"}]},
    "mark": {"type": "point", "shape": "M-1,-0.46H1V0.46H-1Z", "size": 700, "filled": true, "color": "#ffffe0", "opacity": 1},
    "encoding": {"x": {"field": "i", "type": "quantitative"}, "y": {"field": "p", "type": "quantitative"}}},
   {"data": {"values": [{"i": 16.2, "p": 8.509, "t": "EMA20"}]},
    "mark": {"type": "point", "shape": "M-1,-0.32H1V0.32H-1Z", "size": 1681, "filled": true, "color": "#ffffe0", "opacity": 1},
    "encoding": {"x": {"field": "i", "type": "quantitative"}, "y": {"field": "p", "type": "quantitative"}}},
   {"data": {"values": [{"i": 81.1, "p": 9.424, "t": "9.40"}, {"i": 82.1, "p": 8.596, "t": "8.57"}, {"i": 80.8, "p": 7.81, "t": "7.80"}, {"i": 16.2, "p": 8.509, "t": "EMA20"}]},
    "mark": {"type": "text", "fontSize": 11, "align": "center", "baseline": "middle"},
    "encoding": {"x": {"field": "i", "type": "quantitative"}, "y": {"field": "p", "type": "quantitative"}, "text": {"field": "t"},
      "color": {"condition": {"test": "datum.t == '7.80'", "value": "#006400"}, "value": "#ff0000"}}},
   {"data": {"values": [{"i": 97.05, "p": 9.541, "t": "SEMAPA (8.34000, 8.42000, 8.30000, 8.31000, +0.0000)"}]},
    "mark": {"type": "text", "fontSize": 11, "align": "center", "baseline": "middle", "color": "black"},
    "encoding": {"x": {"field": "i", "type": "quantitative"}, "y": {"field": "p", "type": "quantitative"}, "text": {"field": "t"}}}
  ]
 },
 {
  "width": 815, "height": 52,
  "view": {"fill": "#ffffe0"},
  "layer": [
   {"data": {"values": [{"a": 1}]}, "mark": {"type": "rect", "color": "#ffffe0"},
    "encoding": {
     "x": {"datum": 194.9, "type": "quantitative", "scale": {"domain": [-0.55, 194.9], "nice": false, "zero": false, "padding": 0},
       "axis": {"orient": "bottom", "values": [2, 7, 12, 17, 22, 26, 30, 35, 39, 44, 49, 54, 59, 64, 69, 74, 79, 84, 89, 94, 99, 104, 109, 114, 119, 124, 129, 134, 139, 144, 149, 154, 159, 164, 169, 174, 179, 184, 189], "tickCount": 100, "grid": false, "ticks": true, "tickSize": 5, "labels": false, "domain": true, "title": null}},
     "x2": {"datum": 205.92},
     "y": {"datum": 0, "type": "quantitative", "scale": {"domain": [0, 96300], "nice": false, "padding": 0}},
     "y2": {"datum": 96300}
    }},
   {"data": {"name": "months"}, "transform": [{"filter": "datum.i >= 0"}],
    "mark": {"type": "rule", "color": "#b4b4b4", "strokeDash": [3, 3], "strokeWidth": 1},
    "encoding": {"x": {"field": "i", "type": "quantitative"}}},
   {"data": {"name": "bars"}, "mark": {"type": "bar", "orient": "vertical", "size": 2, "color": "#006400"},
    "encoding": {"x": {"field": "i", "type": "quantitative"},
     "y": {"field": "v", "type": "quantitative",
       "axis": {"orient": "right", "values": [16667, 33333, 50000, 66667, 83333], "tickCount": 100, "labelExpr": "datum.value == 50000 ? '50000' : ''", "tickSize": 6, "labelAlign": "right", "labelPadding": 36, "labelOverlap": false, "grid": false, "zindex": 1,
         "title": "x10", "titleAngle": 0, "titleX": 3, "titleY": 46, "titleAlign": "left", "titleBaseline": "middle", "titleFontSize": 9, "titleFontWeight": "normal"}}}},
   {"data": {"values": [{"z": 96300}]},
    "mark": {"type": "rule", "color": "black", "strokeWidth": 1},
    "encoding": {"x": {"datum": -0.55, "type": "quantitative"}, "x2": {"datum": 205.92}, "y": {"field": "z", "type": "quantitative"}}},
   {"data": {"values": [{"i": 97.05, "y": 78340, "t": "Volume (473,277)"}]},
    "mark": {"type": "text", "fontSize": 11, "align": "center", "baseline": "middle", "color": "black"},
    "encoding": {"x": {"field": "i", "type": "quantitative"}, "y": {"field": "y", "type": "quantitative"}, "text": {"field": "t"}}}
  ]
 },
 {
  "width": 815, "height": 18,
  "view": {"fill": "#ffffe0"},
  "layer": [
   {"data": {"name": "months"}, "transform": [{"filter": "datum.i >= 0"}],
    "mark": {"type": "rule", "color": "black", "strokeWidth": 1},
    "encoding": {"x": {"field": "i", "type": "quantitative", "scale": {"domain": [-0.55, 194.9], "nice": false, "zero": false, "padding": 0}, "axis": null}}},
   {"data": {"name": "months"},
    "mark": {"type": "text", "align": "left", "baseline": "middle", "dx": 2, "dy": 2, "fontSize": 11, "color": "black", "clip": true},
    "encoding": {"x": {"field": "i", "type": "quantitative"}, "text": {"field": "m"}}}
  ]
 }
]
}
